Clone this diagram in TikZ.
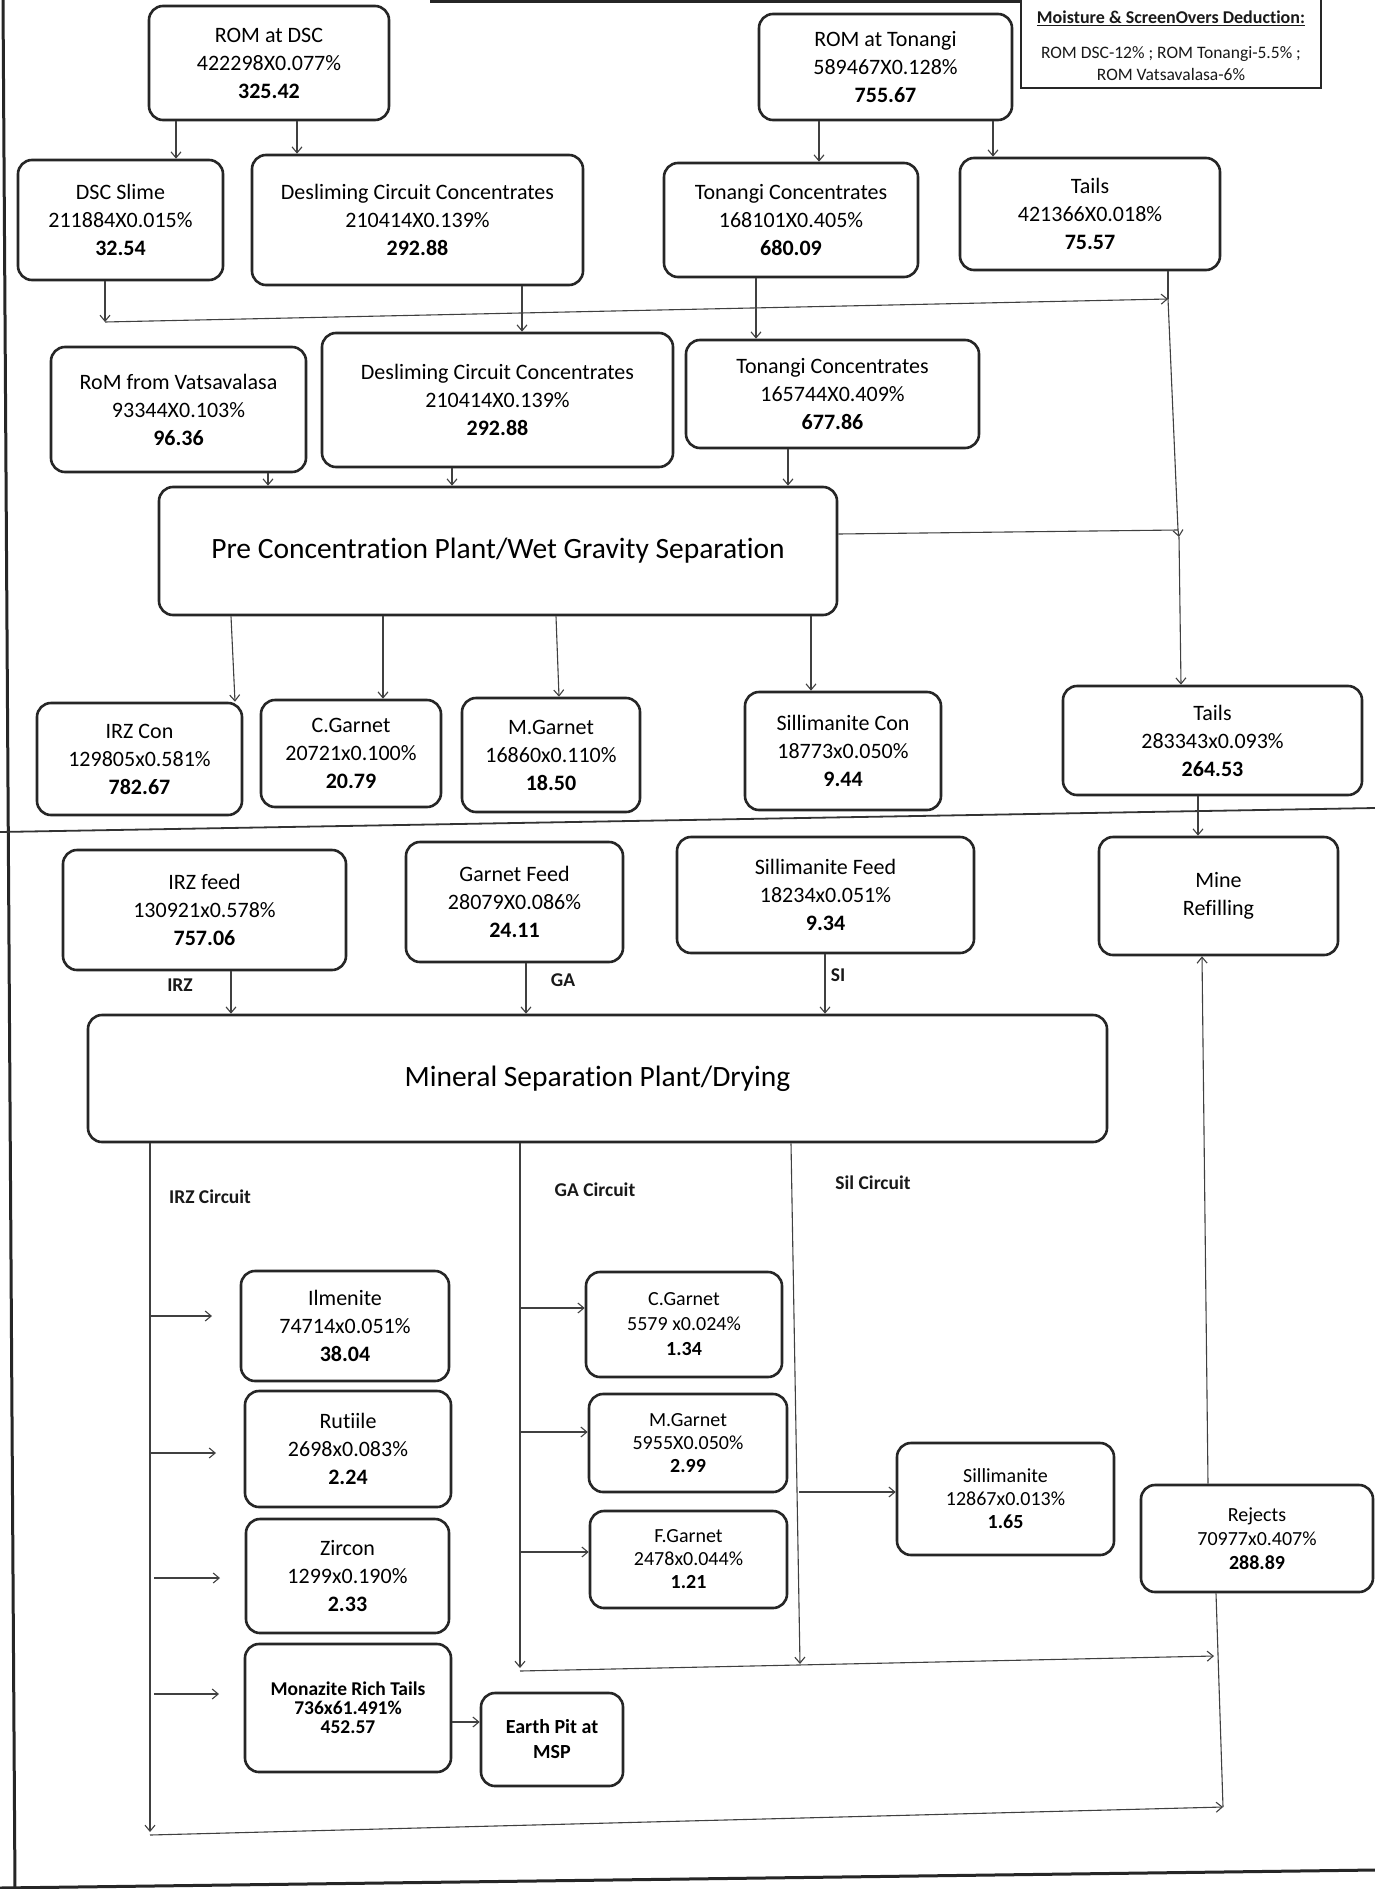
\documentclass[tikz,border=0pt]{standalone}
\usepackage{fontspec}
\setmainfont{Carlito}[Ligatures=NoCommon]
\usetikzlibrary{arrows.meta}
\tikzset{
  bx/.style={draw=black!85, line width=2.6pt, rounded corners=14pt, align=center, inner sep=0pt, text=black, font=\fontsize{22}{28}\selectfont},
  sbx/.style={bx, font=\fontsize{20}{24}\selectfont},
  bigbx/.style={bx, font=\fontsize{29.5}{34}\selectfont},
  ln/.style={line width=1.1pt, draw=black!75},
  arr/.style={ln, -{Straight Barb[length=6pt,width=10pt]}},
  lbl/.style={font=\bfseries\fontsize{19.5}{22}\selectfont, text=black!90, inner sep=0pt},
  frame/.style={line width=3pt, draw=black!85},
}
\begin{document}
\begin{tikzpicture}[x=1pt,y=-1pt]
\useasboundingbox[fill=white] (0,0) rectangle (1375,1889);

% frame pieces
\draw[frame] (3,0) -- (15,1889);
\draw[frame] (0,1888) -- (1375,1870);
\draw[line width=3.5pt, draw=black!85] (430,1) -- (1020,1);
\draw[line width=1.8pt, draw=black!80] (0,832) -- (1375,808);

% moisture box
\draw[line width=2.5pt, draw=black!85] (1021,-10) rectangle (1321,88);
\node[inner sep=0pt, text=black!90, font=\bfseries\fontsize{18}{20}\selectfont] (mhead) at (1171,18) {\underline{Moisture \& ScreenOvers Deduction:}};
\node[inner sep=0pt, align=center, text=black!90, font=\fontsize{17.5}{22}\selectfont] (mtext) at (1171,64) {ROM DSC-12\% ; ROM Tonangi-5.5\% ;\\ROM Vatsavalasa-6\%};

% row 1
\node[bx, minimum width=240pt, minimum height=114pt] (romdsc) at (269,63) {ROM at DSC\\422298X0.077\%\\\textbf{325.42}};
\node[bx, minimum width=253pt, minimum height=106pt] (romton) at (885.5,67) {ROM at Tonangi\\589467X0.128\%\\\textbf{755.67}};

% row 2
\node[bx, minimum width=205pt, minimum height=120pt] (slime) at (120.5,220) {DSC Slime\\211884X0.015\%\\\textbf{32.54}};
\node[bx, minimum width=331pt, minimum height=130pt] (desl1) at (417.5,220) {Desliming Circuit Concentrates\\210414X0.139\%\\\textbf{292.88}};
\node[bx, minimum width=254pt, minimum height=114pt] (tonc1) at (791,220) {Tonangi Concentrates\\168101X0.405\%\\\textbf{680.09}};
\node[bx, minimum width=260pt, minimum height=112pt] (tails1) at (1090,214) {Tails\\421366X0.018\%\\\textbf{75.57}};

% row 3
\node[bx, minimum width=255pt, minimum height=125pt] (vats) at (178.5,409.5) {RoM from Vatsavalasa\\93344X0.103\%\\\textbf{96.36}};
\node[bx, minimum width=351pt, minimum height=134pt] (desl2) at (497.5,400) {Desliming Circuit Concentrates\\210414X0.139\%\\\textbf{292.88}};
\node[bx, minimum width=293pt, minimum height=108pt] (tonc2) at (832.5,394) {Tonangi Concentrates\\165744X0.409\%\\\textbf{677.86}};

\node[bigbx, minimum width=678pt, minimum height=128pt] (pcp) at (498,551) {Pre Concentration Plant/Wet Gravity Separation};

% row 4
\node[bx, minimum width=205pt, minimum height=112pt] (irzcon) at (139.5,759) {IRZ Con\\129805x0.581\%\\\textbf{782.67}};
\node[bx, minimum width=180pt, minimum height=107pt] (cg1) at (351,753.5) {C.Garnet\\20721x0.100\%\\\textbf{20.79}};
\node[bx, minimum width=178pt, minimum height=114pt] (mg1) at (551,755) {M.Garnet\\16860x0.110\%\\\textbf{18.50}};
\node[bx, minimum width=196pt, minimum height=118pt] (silcon) at (843,751) {Sillimanite Con\\18773x0.050\%\\\textbf{9.44}};
\node[bx, minimum width=299pt, minimum height=109pt] (tails2) at (1212.5,740.5) {Tails\\283343x0.093\%\\\textbf{264.53}};

% row 5
\node[bx, minimum width=283pt, minimum height=120pt] (irzfeed) at (204.5,910) {IRZ feed\\130921x0.578\%\\\textbf{757.06}};
\node[bx, minimum width=217pt, minimum height=120pt] (gafeed) at (514.5,902) {Garnet Feed\\28079X0.086\%\\\textbf{24.11}};
\node[bx, minimum width=297pt, minimum height=116pt] (silfeed) at (825.5,895) {Sillimanite Feed\\18234x0.051\%\\\textbf{9.34}};
\node[bx, minimum width=239pt, minimum height=118pt] (mine) at (1218.5,896) {Mine\\Refilling};

\node[bigbx, minimum width=1019pt, minimum height=127pt] (msp) at (597.5,1078.5) {Mineral Separation Plant/Drying};

\node[lbl] (lirz) at (180,985) {IRZ};
\node[lbl] (lga) at (563,980) {GA};
\node[lbl] (lsi) at (838,975) {SI};
\node[lbl] (cirz) at (210,1197) {IRZ Circuit};
\node[lbl] (cga) at (595,1190) {GA Circuit};
\node[lbl] (csil) at (873,1183) {Sil Circuit};

% lower boxes
\node[bx, minimum width=208pt, minimum height=110pt] (ilm) at (345,1326) {Ilmenite\\74714x0.051\%\\\textbf{38.04}};
\node[bx, minimum width=206pt, minimum height=116pt] (rut) at (348,1449) {Rutiile\\2698x0.083\%\\\textbf{2.24}};
\node[bx, minimum width=203pt, minimum height=114pt] (zir) at (347.5,1576) {Zircon\\1299x0.190\%\\\textbf{2.33}};
\node[bx, minimum width=206pt, minimum height=128pt, font=\bfseries\fontsize{19.5}{19}\selectfont] (mon) at (348,1708) {Monazite Rich Tails\\736x61.491\%\\452.57};
\node[bx, minimum width=142pt, minimum height=93pt, font=\bfseries\fontsize{20}{25}\selectfont] (earth) at (552,1739.5) {Earth Pit at\\MSP};
\node[sbx, minimum width=196pt, minimum height=105pt, font=\fontsize{20}{25}\selectfont] (cg2) at (684,1324.5) {C.Garnet\\5579 x0.024\%\\\textbf{1.34}};
\node[sbx, minimum width=198pt, minimum height=98pt, font=\fontsize{20}{23}\selectfont] (mg2) at (688,1443) {M.Garnet\\5955X0.050\%\\\textbf{2.99}};
\node[sbx, minimum width=197pt, minimum height=97pt, font=\fontsize{20}{23}\selectfont] (fg) at (688.5,1559.5) {F.Garnet\\2478x0.044\%\\\textbf{1.21}};
\node[sbx, minimum width=217pt, minimum height=112pt, font=\fontsize{20}{23}\selectfont] (sil) at (1005.5,1499) {Sillimanite\\12867x0.013\%\\\textbf{1.65}};
\node[sbx, minimum width=232pt, minimum height=107pt] (rej) at (1257,1538.5) {Rejects\\70977x0.407\%\\\textbf{288.89}};

% connectors top
\draw[arr] (176,0 |- romdsc.south) -- (176,0 |- slime.north);
\draw[arr] (297,0 |- romdsc.south) -- (297,0 |- desl1.north);
\draw[arr] (819,0 |- romton.south) -- (819,0 |- tonc1.north);
\draw[arr] (993,0 |- romton.south) -- (993,0 |- tails1.north);

\coordinate (c1) at (105,322);
\coordinate (j1) at (1168,299);
\coordinate (j2) at (1178,530);
\coordinate (j3) at (1179,537);
\draw[arr] (105,0 |- slime.south) -- (c1);
\draw[arr] (c1) -- (j1);
\draw[ln] (1168,0 |- tails1.south) -- (j1);
\draw[ln] (j1) -- (j2);
\draw[ln] (pcp.east |- 0,534) -- (j2);
\draw[arr] (j2) -- (j3);
\draw[arr] (j3) -- (1181,0 |- tails2.north);

\draw[arr] (522,0 |- desl1.south) -- (522,0 |- desl2.north);
\draw[arr] (756,0 |- tonc1.south) -- (756,0 |- tonc2.north);

\draw[arr] (268,0 |- vats.south) -- (268,0 |- pcp.north);
\draw[arr] (452,0 |- desl2.south) -- (452,0 |- pcp.north);
\draw[arr] (788,0 |- tonc2.south) -- (788,0 |- pcp.north);

\draw[arr] (231,0 |- pcp.south) -- (235,0 |- irzcon.north);
\draw[arr] (383,0 |- pcp.south) -- (383,0 |- cg1.north);
\draw[arr] (556,0 |- pcp.south) -- (559,0 |- mg1.north);
\draw[arr] (811,0 |- pcp.south) -- (811,0 |- silcon.north);

\draw[arr] (1198,0 |- tails2.south) -- (1198,0 |- mine.north);

\draw[arr] (231,0 |- irzfeed.south) -- (231,0 |- msp.north);
\draw[arr] (526,0 |- gafeed.south) -- (526,0 |- msp.north);
\draw[arr] (825,0 |- silfeed.south) -- (825,0 |- msp.north);

% circuits
\coordinate (irzb) at (150,1832);
\coordinate (irzh) at (150,1835);
\coordinate (rj2) at (1223,1807);
\coordinate (gab) at (520,1668);
\coordinate (gah) at (520,1671);
\coordinate (silb) at (800,1664);
\coordinate (rj1) at (1214,1656);
\draw[arr] (150,0 |- msp.south) -- (irzb);
\draw[arr] (520,0 |- msp.south) -- (gab);
\draw[arr] (791,0 |- msp.south) -- (silb);
\draw[arr] (gah) -- (rj1);
\draw[arr] (irzh) -- (rj2);
\draw[ln] (rj2) -- (1216,0 |- rej.south);
\draw[arr] (1208,0 |- rej.north) -- (1202,0 |- mine.south);

% side arrows IRZ
\coordinate (a1s) at (150,1316); \coordinate (a1e) at (212,1316);
\coordinate (a2s) at (150,1453); \coordinate (a2e) at (216,1453);
\coordinate (a3s) at (154,1578); \coordinate (a3e) at (220,1578);
\coordinate (a4s) at (154,1694); \coordinate (a4e) at (219,1694);
\draw[arr] (a1s) -- (a1e);
\draw[arr] (a2s) -- (a2e);
\draw[arr] (a3s) -- (a3e);
\draw[arr] (a4s) -- (a4e);
\draw[arr] (mon.east |- 0,1722) -- (earth.west |- 0,1722);

% side arrows GA / Sil
\draw[arr] (520,1308) -- (cg2.west |- 0,1308);
\draw[arr] (520,1432) -- (mg2.west |- 0,1432);
\draw[arr] (520,1552) -- (fg.west |- 0,1552);
\draw[arr] (799,1492) -- (sil.west |- 0,1492);
\end{tikzpicture}
\end{document}
